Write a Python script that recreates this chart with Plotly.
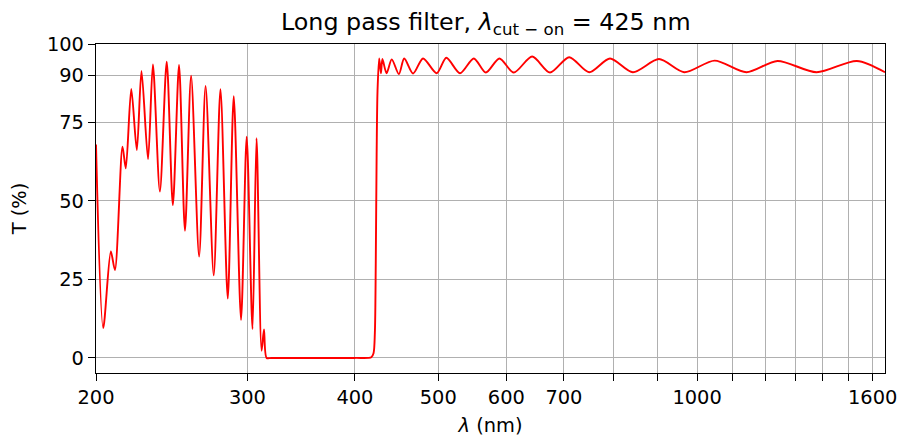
import plotly.graph_objects as go

# Transmission spectrum of the long pass filter: wavelength (nm) and T (%)
wavelength_nm = [
    200.0, 203.9, 208.1, 210.4, 214.7, 216.6, 219.8, 223.1, 225.9, 229.9,
    232.9, 237.3, 241.7, 245.7, 249.8, 253.8, 258.0, 263.6, 268.2, 274.1,
    279.1, 284.6, 289.2, 294.9, 299.4, 304.1, 307.4, 311.6, 313.6, 315.8,
    320.0, 400.0, 418.0, 420.5, 422.0, 423.0, 424.0, 425.0, 426.9, 428.9,
    430.6, 435.4, 441.5, 450.0, 456.5, 467.5, 480.1, 498.0, 511.0, 530.0,
    550.0, 568.0, 589.0, 612.0, 643.0, 674.5, 710.0, 749.0, 792.0, 842.0,
    903.0, 966.0, 1048.0, 1141.0, 1240.0, 1377.0, 1534.0, 1654.0,
]
transmission_pct = [
    68.0, 9.5, 33.9, 28.0, 67.3, 60.4, 85.7, 66.2, 91.4, 63.3,
    93.5, 53.0, 94.4, 48.7, 93.3, 40.5, 89.9, 32.3, 86.6, 26.3,
    85.6, 18.9, 83.4, 12.1, 70.5, 9.2, 70.0, 2.3, 9.1, 0.0,
    0.0, 0.0, 0.2, 1.5, 8.0, 30.0, 65.0, 85.0, 95.4, 90.7,
    95.2, 90.7, 95.1, 90.4, 95.4, 90.6, 95.4, 90.7, 95.6, 90.7,
    95.4, 90.9, 95.4, 90.9, 96.0, 90.9, 95.8, 91.0, 95.4, 91.0,
    95.2, 91.0, 94.7, 91.0, 94.6, 91.0, 94.6, 91.0,
]

# Axis ticks: labelled majors and unlabelled minors (both with grid lines)
x_major_ticks = [200, 300, 400, 500, 600, 700, 1000, 1600]
x_minor_ticks = [800, 900, 1100, 1200, 1300, 1400, 1500]
y_tick_values = [0, 25, 50, 75, 90, 100]

FONT = "DejaVu Sans"
TICK_SIZE = 19.4
LABEL_SIZE = 19.4
TITLE_SIZE = 23.8
GRID_COLOR = "#b0b0b0"

fig = go.Figure()
fig.add_trace(go.Scatter(
    x=wavelength_nm,
    y=transmission_pct,
    mode="lines",
    line=dict(color="red", width=1.9, shape="spline", smoothing=0.8),
    showlegend=False,
))

axis_common = dict(
    showline=True, linecolor="black", linewidth=1.4, mirror=True,
    ticks="outside", ticklen=7, tickwidth=1.3, tickcolor="black",
    showgrid=True, gridcolor=GRID_COLOR, gridwidth=1.2,
    zeroline=False, automargin=False,
    tickfont=dict(family=FONT, size=TICK_SIZE, color="black"),
)

fig.update_xaxes(
    type="log",
    range=[2.30103, 3.2185],
    tickmode="array",
    tickvals=x_major_ticks,
    ticktext=[str(v) for v in x_major_ticks],
    minor=dict(tickmode="array", tickvals=x_minor_ticks,
               ticks="outside", ticklen=7, tickwidth=1.3, tickcolor="black",
               showgrid=True, gridcolor=GRID_COLOR, gridwidth=1.2),
    title=dict(text="<i>λ</i> (nm)",
               font=dict(family=FONT, size=LABEL_SIZE, color="black"),
               standoff=12),
    **axis_common,
)
fig.update_yaxes(
    range=[-4.8, 100],
    tickmode="array",
    tickvals=y_tick_values,
    title=dict(text="T (%)",
               font=dict(family=FONT, size=LABEL_SIZE, color="black"),
               standoff=15),
    **axis_common,
)

fig.update_layout(
    width=902,
    height=437,
    margin=dict(l=96, r=17, t=44, b=64),
    paper_bgcolor="white",
    plot_bgcolor="white",
    title=dict(
        text="Long pass filter, <i>λ</i><sub>cut − on</sub> = 425 nm",
        x=0.494, xref="paper", xanchor="center",
        y=0.95, yref="container", yanchor="middle",
        font=dict(family=FONT, size=TITLE_SIZE, color="black"),
    ),
)

fig.write_html("out.html")
